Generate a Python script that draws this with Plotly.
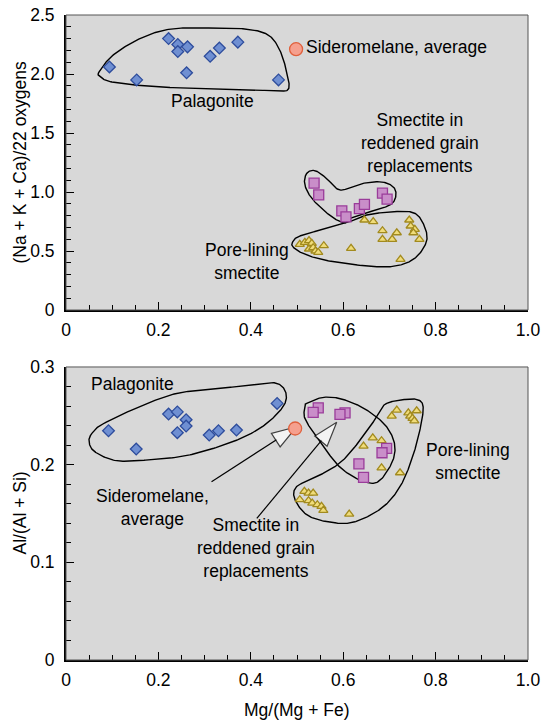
import numpy as np
import plotly.graph_objects as go

# ---------------- data ----------------
# Top panel: (Na+K+Ca)/22 oxygens vs Mg/(Mg+Fe)
pal_top_x = [0.094, 0.153, 0.222, 0.242, 0.242, 0.263, 0.261, 0.312, 0.332, 0.372, 0.460]
pal_top_y = [2.06, 1.95, 2.30, 2.25, 2.19, 2.23, 2.01, 2.15, 2.22, 2.27, 1.95]

sid_top_x = [0.498]
sid_top_y = [2.21]

red_top_x = [0.537, 0.547, 0.597, 0.606, 0.635, 0.646, 0.685, 0.695]
red_top_y = [1.075, 0.975, 0.840, 0.790, 0.860, 0.895, 0.990, 0.940]

pore_top_x = [0.506, 0.517, 0.526, 0.532, 0.526, 0.535, 0.540, 0.546, 0.558, 0.617,
              0.646, 0.665, 0.685, 0.716, 0.685, 0.706, 0.743, 0.746, 0.755, 0.752, 0.765, 0.724]
pore_top_y = [0.557, 0.574, 0.588, 0.565, 0.517, 0.528, 0.500, 0.489, 0.545, 0.523,
              0.763, 0.749, 0.672, 0.655, 0.599, 0.599, 0.763, 0.712, 0.684, 0.655, 0.599, 0.430]

# Bottom panel: Al/(Al+Si) vs Mg/(Mg+Fe)
pal_bot_x = [0.092, 0.152, 0.222, 0.241, 0.260, 0.260, 0.241, 0.310, 0.330, 0.369, 0.457]
pal_bot_y = [0.2347, 0.216, 0.2518, 0.254, 0.246, 0.2395, 0.2327, 0.2303, 0.2347, 0.2354, 0.2627]

sid_bot_x = [0.496]
sid_bot_y = [0.237]

red_bot_x = [0.546, 0.535, 0.604, 0.593, 0.694, 0.684, 0.634, 0.644]
red_bot_y = [0.2582, 0.2535, 0.2531, 0.2515, 0.2167, 0.2122, 0.2009, 0.187]

pore_bot_x = [0.516, 0.525, 0.535, 0.506, 0.525, 0.533, 0.544, 0.553, 0.557, 0.613,
              0.716, 0.705, 0.741, 0.745, 0.759, 0.750, 0.754,
              0.664, 0.683, 0.644, 0.683, 0.723]
pore_bot_y = [0.1727, 0.1709, 0.1709, 0.1641, 0.1631, 0.1607, 0.1590, 0.1573, 0.1532, 0.1494,
              0.2559, 0.2497, 0.2531, 0.2497, 0.2552, 0.2474, 0.2449,
              0.2275, 0.2245, 0.219, 0.1968, 0.1917]

# Hand-drawn field outlines (control points, data units)
env_pal_top_x = [0.072, 0.102, 0.160, 0.225, 0.312, 0.391, 0.438, 0.463, 0.478, 0.481, 0.449, 0.348, 0.203, 0.102, 0.074]
env_pal_top_y = [2.02, 2.16, 2.30, 2.38, 2.39, 2.38, 2.33, 2.20, 2.01, 1.87, 1.86, 1.87, 1.89, 1.93, 1.98]
env_red_top_x = [0.521, 0.539, 0.564, 0.593, 0.636, 0.680, 0.708, 0.714, 0.701, 0.658, 0.622, 0.604, 0.575, 0.535, 0.517]
env_red_top_y = [1.158, 1.181, 1.116, 1.017, 1.068, 1.087, 1.045, 0.966, 0.890, 0.833, 0.791, 0.740, 0.791, 0.932, 1.059]
env_pore_top_x = [0.491, 0.506, 0.564, 0.608, 0.651, 0.708, 0.752, 0.773, 0.781, 0.759, 0.723, 0.673, 0.579, 0.521, 0.492]
env_pore_top_y = [0.579, 0.627, 0.692, 0.740, 0.805, 0.833, 0.825, 0.735, 0.593, 0.452, 0.381, 0.367, 0.409, 0.466, 0.531]

env_pal_bot_x = [0.056, 0.081, 0.167, 0.240, 0.312, 0.391, 0.449, 0.474, 0.472, 0.431, 0.369, 0.268, 0.182, 0.110, 0.063, 0.050]
env_pal_bot_y = [0.232, 0.242, 0.261, 0.273, 0.277, 0.281, 0.284, 0.276, 0.261, 0.241, 0.225, 0.210, 0.205, 0.204, 0.213, 0.223]
env_red_bot_x = [0.521, 0.557, 0.600, 0.651, 0.694, 0.712, 0.701, 0.665, 0.600, 0.550, 0.517, 0.519]
env_red_bot_y = [0.2627, 0.2689, 0.2668, 0.2559, 0.2388, 0.2183, 0.1978, 0.1809, 0.1945, 0.2234, 0.2474, 0.260]
env_pore_bot_x = [0.694, 0.723, 0.759, 0.773, 0.766, 0.748, 0.723, 0.687, 0.636, 0.593, 0.528, 0.496, 0.499, 0.543, 0.600, 0.658, 0.680]
env_pore_bot_y = [0.2627, 0.2661, 0.2668, 0.2593, 0.2354, 0.2047, 0.1774, 0.1569, 0.1433, 0.1399, 0.1467, 0.1638, 0.1774, 0.1876, 0.2047, 0.2388, 0.2559]

# Pointer arrows in the lower panel: [tail, tip]
arrow_sid_x = [0.315, 0.499]
arrow_sid_y = [0.1825, 0.2388]
arrow_red_x = [0.413, 0.586]
arrow_red_y = [0.145, 0.2435]

x_tickvals = [0, 0.2, 0.4, 0.6, 0.8, 1.0]
x_ticktext = ["0", "0.2", "0.4", "0.6", "0.8", "1.0"]
y1_tickvals = [0, 0.5, 1.0, 1.5, 2.0, 2.5]
y1_ticktext = ["0", "0.5", "1.0", "1.5", "2.0", "2.5"]
y2_tickvals = [0, 0.1, 0.2, 0.3]
y2_ticktext = ["0", "0.1", "0.2", "0.3"]

# ---------------- styling ----------------
FONT = "Liberation Sans, Arial, Helvetica, sans-serif"
FS = 17.5
BG = "#d8d8d8"
W, H = 541, 722
ML, MR, MT, MB = 66, 13, 15, 62
pal_style = dict(symbol="diamond", size=9, color="#6f8fd2", line=dict(color="#2d4c9c", width=1.3))
sid_style = dict(symbol="circle", size=13, color="#f5a08e", line=dict(color="#e0603c", width=1.3))
red_style = dict(symbol="square", size=10, color="#c98ec9", line=dict(color="#9a3c9a", width=1.3))
pore_style = dict(symbol="triangle-up", size=8, color="#f0dc7a", line=dict(color="#a28a1e", width=1.3))


def closed_curve(xs, ys, n=24):
    P = np.column_stack([xs, ys]).astype(float)
    N = len(P)
    t = np.linspace(0, 1, n, endpoint=False)[:, None]
    segs = []
    for i in range(N):
        p0, p1, p2, p3 = P[(i - 1) % N], P[i], P[(i + 1) % N], P[(i + 2) % N]
        segs.append(0.5 * (2 * p1 + (-p0 + p2) * t + (2 * p0 - 5 * p1 + 4 * p2 - p3) * t ** 2
                           + (-p0 + 3 * p1 - 3 * p2 + p3) * t ** 3))
    out = np.vstack(segs + [P[:1]])
    return out[:, 0], out[:, 1]


fig = go.Figure()

def add_env(xs, ys, xa, ya):
    cx, cy = closed_curve(xs, ys)
    fig.add_trace(go.Scatter(x=cx, y=cy, mode="lines", line=dict(color="black", width=1.4),
                             xaxis=xa, yaxis=ya, hoverinfo="skip", showlegend=False))

add_env(env_pal_top_x, env_pal_top_y, "x", "y")
add_env(env_red_top_x, env_red_top_y, "x", "y")
add_env(env_pore_top_x, env_pore_top_y, "x", "y")
add_env(env_pal_bot_x, env_pal_bot_y, "x2", "y2")
add_env(env_red_bot_x, env_red_bot_y, "x2", "y2")
add_env(env_pore_bot_x, env_pore_bot_y, "x2", "y2")

# arrows: black shaft + white-filled, black-outlined head at the tip (drawn under the markers)
for ax_, ay_ in [(arrow_sid_x, arrow_sid_y), (arrow_red_x, arrow_red_y)]:
    fig.add_trace(go.Scatter(x=ax_, y=ay_, mode="lines+markers", xaxis="x2", yaxis="y2",
                             line=dict(color="black", width=1.2),
                             marker=dict(symbol="arrow", size=[0, 26], angleref="previous",
                                         color="white", line=dict(color="black", width=1.2)),
                             showlegend=False, hoverinfo="skip"))

for (xx, yy, st, xa, ya) in [
    (pal_top_x, pal_top_y, pal_style, "x", "y"),
    (pore_top_x, pore_top_y, pore_style, "x", "y"),
    (red_top_x, red_top_y, red_style, "x", "y"),
    (sid_top_x, sid_top_y, sid_style, "x", "y"),
    (pal_bot_x, pal_bot_y, pal_style, "x2", "y2"),
    (pore_bot_x, pore_bot_y, pore_style, "x2", "y2"),
    (red_bot_x, red_bot_y, red_style, "x2", "y2"),
    (sid_bot_x, sid_bot_y, sid_style, "x2", "y2"),
]:
    fig.add_trace(go.Scatter(x=xx, y=yy, mode="markers", marker=st, xaxis=xa, yaxis=ya,
                             showlegend=False, hoverinfo="skip"))


def xaxis_def(anchor):
    return dict(range=[0, 1.0], domain=[0, 1], anchor=anchor, showgrid=False, zeroline=False,
                automargin=False,
                showline=True, linecolor="black", linewidth=2,
                ticks="inside", ticklen=8, tickwidth=1, tickcolor="black",
                tickvals=x_tickvals, ticktext=x_ticktext,
                tickfont=dict(family=FONT, size=FS, color="black"),
                minor=dict(tickvals=list(np.round(np.arange(0.05, 1.0, 0.05), 2)), ticks="inside",
                           ticklen=5, tickwidth=1, tickcolor="black"),
                ticklabelstandoff=3)


def yaxis_def(rng, dom, anchor, tv, tt, minor_vals):
    return dict(range=rng, domain=dom, anchor=anchor, showgrid=False, zeroline=False,
                automargin=False,
                showline=True, linecolor="black", linewidth=2,
                ticks="inside", ticklen=8, tickwidth=1, tickcolor="black",
                tickvals=tv, ticktext=tt,
                tickfont=dict(family=FONT, size=FS, color="black"),
                minor=dict(tickvals=minor_vals, ticks="inside", ticklen=5, tickwidth=1, tickcolor="black"),
                ticklabelstandoff=6)


TOP_DOM = [0.5426, 1.0]
BOT_DOM = [0, 0.4543]

fig.update_layout(
    width=W, height=H,
    margin=dict(l=ML, r=MR, t=MT, b=MB, pad=0, autoexpand=False),
    paper_bgcolor="white", plot_bgcolor=BG,
    showlegend=False,
    font=dict(family=FONT, size=FS, color="black"),
    xaxis=xaxis_def("y"),
    xaxis2=xaxis_def("y2"),
    yaxis=yaxis_def([0, 2.5], TOP_DOM, "x", y1_tickvals, y1_ticktext,
                    list(np.round(np.arange(0.1, 2.5, 0.1), 2))),
    yaxis2=yaxis_def([0, 0.3], BOT_DOM, "x2", y2_tickvals, y2_ticktext,
                     list(np.round(np.arange(0.02, 0.3, 0.02), 2))),
)

# frames (top/right edges)
for xr, yr in [("x domain", "y domain"), ("x2 domain", "y2 domain")]:
    fig.add_shape(type="rect", xref=xr, yref=yr, x0=0, x1=1, y0=0, y1=1,
                  line=dict(color="#555555", width=1), layer="above")

# axis titles (placed as paper annotations)
pw, ph = W - ML - MR, H - MT - MB
ytitle_x = (20 - ML) / pw
fig.add_annotation(text="(Na + K + Ca)/22 oxygens", textangle=-90, xref="paper", yref="paper",
                   x=ytitle_x, y=sum(TOP_DOM) / 2, showarrow=False, xanchor="center", yanchor="middle",
                   font=dict(family=FONT, size=FS, color="black"))
fig.add_annotation(text="Al/(Al + Si)", textangle=-90, xref="paper", yref="paper",
                   x=ytitle_x, y=sum(BOT_DOM) / 2, showarrow=False, xanchor="center", yanchor="middle",
                   font=dict(family=FONT, size=FS, color="black"))
fig.add_annotation(text="Mg/(Mg + Fe)", xref="paper", yref="paper",
                   x=0.5, y=(H - MB - 710) / ph, showarrow=False, xanchor="center", yanchor="middle",
                   font=dict(family=FONT, size=FS, color="black"))

# text labels
def label(text, x, y, xr, yr, xanchor="center"):
    fig.add_annotation(text=text, x=x, y=y, xref=xr, yref=yr, showarrow=False,
                       xanchor=xanchor, yanchor="middle", align="center",
                       font=dict(family=FONT, size=FS, color="black"))

label("Palagonite", 0.318, 1.77, "x", "y")
label("Sideromelane, average", 0.515, 2.225, "x", "y", xanchor="left")
label("Smectite in<br>reddened grain<br>replacements", 0.766, 1.415, "x", "y")
label("Pore-lining<br>smectite", 0.392, 0.41, "x", "y")

label("Palagonite", 0.143, 0.2825, "x2", "y2")
label("Sideromelane,<br>average", 0.188, 0.156, "x2", "y2")
label("Smectite in<br>reddened grain<br>replacements", 0.411, 0.1146, "x2", "y2")
label("Pore-lining<br>smectite", 0.870, 0.2037, "x2", "y2")

fig.write_html("out.html")
